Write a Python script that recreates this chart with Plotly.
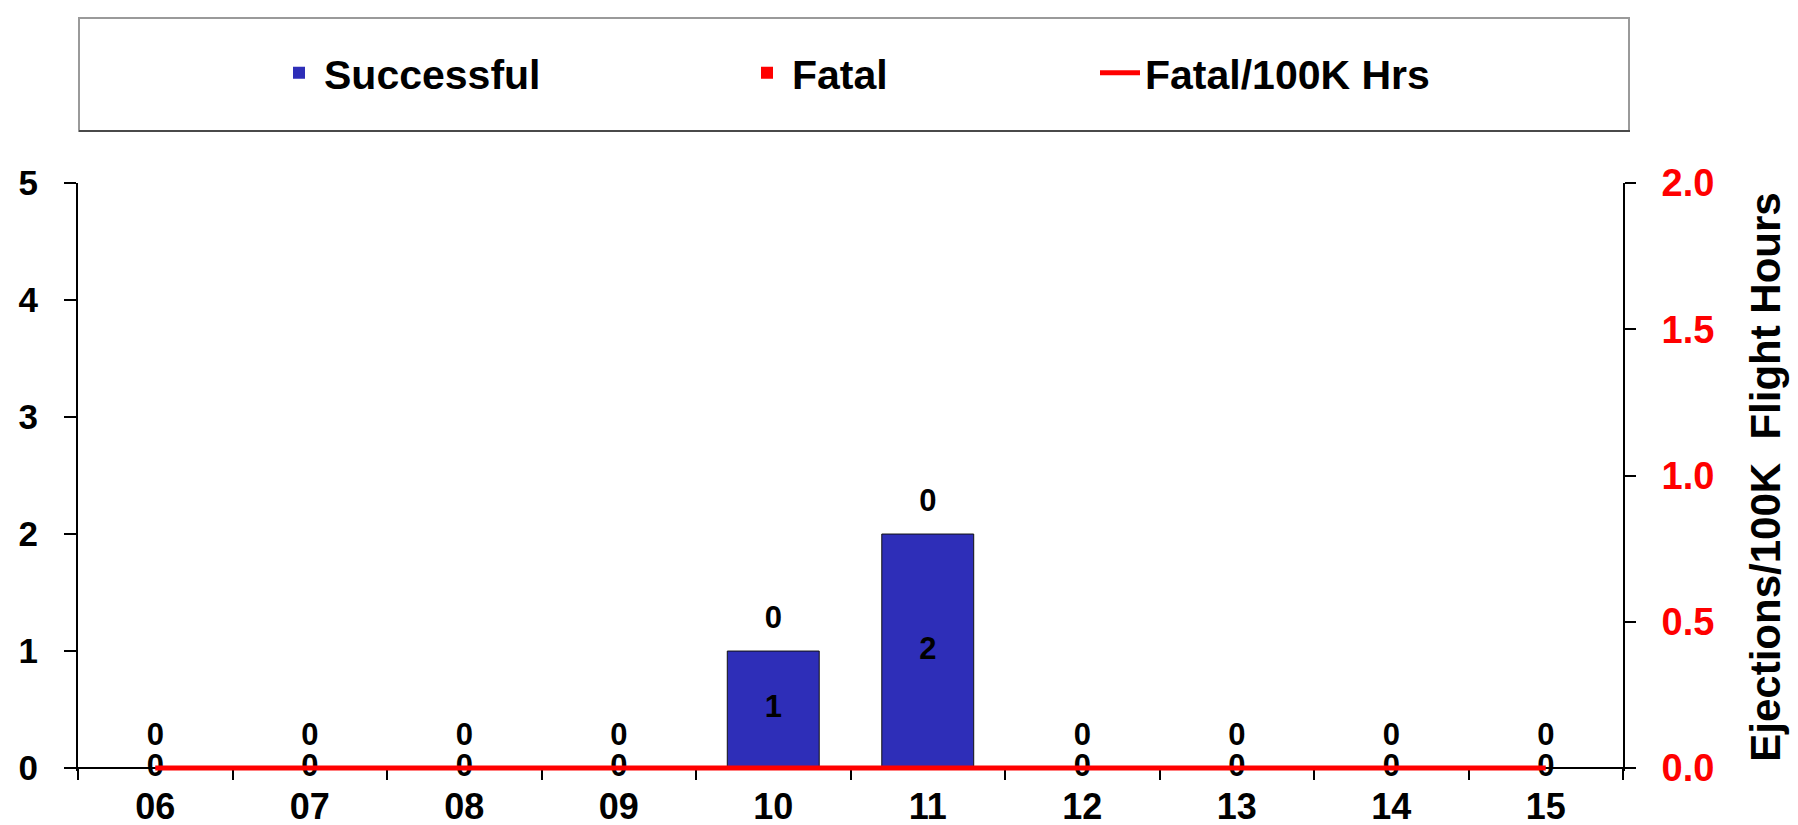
import plotly.graph_objects as go

years = ["06", "07", "08", "09", "10", "11", "12", "13", "14", "15"]
successful = [0, 0, 0, 0, 1, 2, 0, 0, 0, 0]
fatal = [0, 0, 0, 0, 0, 0, 0, 0, 0, 0]
fatal_rate = [0, 0, 0, 0, 0, 0, 0, 0, 0, 0]

FONT = "Arial, Liberation Sans, sans-serif"
BLUE = "#2E2EB8"
RED = "#FF0000"

totals = [s + f for s, f in zip(successful, fatal)]
L, R, T, B = 70, 183, 175, 62
W, H = 1798, 825
pw, ph = W - L - R, H - T - B
Y1_MAX, Y2_MAX = 5, 2
PAD_FRAC = 0.005  # small room below zero so the zero line is not clipped


def px_x(px):
    return (px - L) / pw


def px_y(py):
    return (H - B - py) / ph


y1_lo = -PAD_FRAC * Y1_MAX / (1 - PAD_FRAC)
y2_lo = -PAD_FRAC * Y2_MAX / (1 - PAD_FRAC)

fig = go.Figure()
fig.add_trace(go.Bar(x=years, y=successful, name="Successful", legend="legend",
                     marker=dict(color=BLUE, line=dict(color="#111111", width=[1 if v > 0 else 0 for v in successful])),
                     width=0.595, hoverinfo="x+y"))
fig.add_trace(go.Bar(x=years, y=fatal, name="Fatal", base=successful, legend="legend2",
                     marker=dict(color=RED, line=dict(color="#111111", width=[1 if v > 0 else 0 for v in fatal])),
                     width=0.595, hoverinfo="x+y"))
fig.add_trace(go.Scatter(x=years, y=fatal_rate, name="Fatal/100K Hrs", mode="lines", legend="legend3",
                         line=dict(color=RED, width=5), yaxis="y2", cliponaxis=False))

# value labels
lab_font = dict(family=FONT, size=31, color="black", weight="bold")
fig.add_trace(go.Scatter(x=years, y=[s / 2 for s in successful], mode="text", text=[str(v) for v in successful],
                         textposition="middle center", textfont=lab_font,
                         showlegend=False, cliponaxis=False, hoverinfo="skip"))
fig.add_trace(go.Scatter(x=years, y=[t + 0.265 for t in totals], mode="text", text=[str(v) for v in fatal],
                         textposition="middle center", textfont=lab_font,
                         showlegend=False, cliponaxis=False, hoverinfo="skip"))

leg_common = dict(orientation="h", xanchor="left", yanchor="middle", y=px_y(65),
                  font=dict(family=FONT, size=41, color="black", weight="bold"),
                  bgcolor="rgba(0,0,0,0)", borderwidth=0, itemwidth=40)

fig.update_layout(
    width=W, height=H,
    margin=dict(l=L, r=R, t=T, b=B, pad=0, autoexpand=False),
    paper_bgcolor="white", plot_bgcolor="white",
    barmode="overlay",
    font=dict(family=FONT, color="black"),
    showlegend=True,
    legend=dict(leg_common, x=px_x(266)),
    legend2=dict(leg_common, x=px_x(734)),
    legend3=dict(leg_common, x=px_x(1087)),
    xaxis=dict(type="category", range=[-0.5, 9.5], showline=True, linecolor="black", linewidth=2,
               anchor="free", position=PAD_FRAC,
               layer="below traces", automargin=False,
               ticks="outside", tickson="boundaries", ticklen=11, tickwidth=2, tickcolor="black",
               ticklabelstandoff=7,
               tickfont=dict(family=FONT, size=36, color="black", weight="bold"), showgrid=False, zeroline=False),
    yaxis=dict(range=[y1_lo, Y1_MAX], tickvals=[0, 1, 2, 3, 4, 5], showline=True, linecolor="black", linewidth=2,
               automargin=False,
               ticks="outside", ticklen=12, tickwidth=2, tickcolor="black", ticklabelstandoff=19,
               tickfont=dict(family=FONT, size=35, color="black", weight="bold"), showgrid=False, zeroline=False),
    yaxis2=dict(range=[y2_lo, Y2_MAX], tickvals=[0, 0.5, 1, 1.5, 2], tickformat=".1f", overlaying="y", side="right",
                showline=True, linecolor="black", linewidth=2, ticks="outside", ticklen=11, tickwidth=2,
                tickcolor="black", ticklabelstandoff=18, automargin=False,
                tickfont=dict(family=FONT, size=38, color=RED, weight="bold"), showgrid=False, zeroline=False,
                title=dict(text="Ejections/100K  Flight Hours",
                           font=dict(family=FONT, size=42, color="black", weight="bold"), standoff=37)),
    yaxis3=dict(range=[y2_lo, Y2_MAX], tickvals=[0, 0.5, 1, 1.5, 2], overlaying="y", side="right", anchor="x",
                showline=False, ticks="inside", ticklen=11, tickwidth=2, tickcolor="black", showticklabels=False,
                showgrid=False, zeroline=False, automargin=False),
)

# legend frame
fig.add_shape(type="rect", xref="paper", yref="paper", x0=px_x(71), x1=px_x(1621), y0=px_y(123), y1=px_y(10),
              line=dict(color="#9a9a9a", width=2), fillcolor="rgba(0,0,0,0)", layer="below")
fig.add_shape(type="line", xref="paper", yref="paper", x0=px_x(71), x1=px_x(1622), y0=px_y(123), y1=px_y(123),
              line=dict(color="#4a4a4a", width=2), layer="below")

fig.write_html("out.html")
